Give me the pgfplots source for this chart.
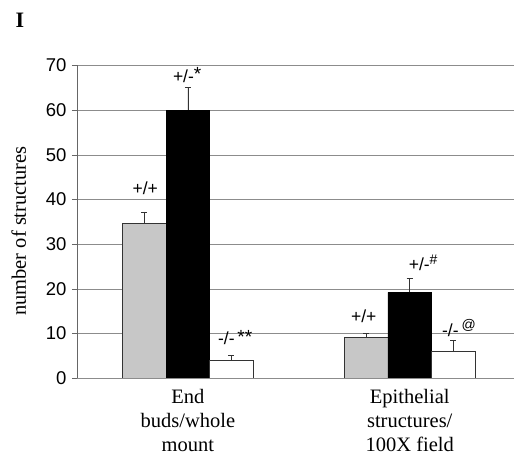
\documentclass[border=0pt]{standalone}
\usepackage{pgfplots}
\pgfplotsset{compat=1.18}
\usepackage{fontspec}
\setmainfont{Liberation Serif}
\newfontfamily\sansf{Liberation Sans}
\newcommand{\supr}[1]{\raisebox{0.38em}{\fontsize{14}{16}\selectfont #1}}
\newcommand{\astr}[1]{\raisebox{0.08em}{\fontsize{19}{20}\selectfont #1}}
\begin{document}
\begin{tikzpicture}[x=1pt,y=1pt]
\useasboundingbox (0,0) rectangle (515,458);
\node[font=\fontsize{22}{24}\selectfont\bfseries] at (20,438) {I};
\begin{axis}[
  at={(77pt,80pt)}, anchor=south west,
  scale only axis, width=437pt, height=312.5pt,
  xmin=-0.5, xmax=1.47, ymin=0, ymax=70,
  ytick={0,10,...,70},
  xtick={0,1},
  xticklabels={End\\buds/whole\\mount, Epithelial\\structures/\\100X field},
  xticklabel style={align=center, font=\fontsize{20.5}{24}\selectfont, yshift=-3pt},
  yticklabel style={font=\sansf\fontsize{18.5}{20}\selectfont, xshift=-2pt},
  /pgf/number format/assume math mode=true,
  axis lines*=left,
  axis line style={-, black!60},
  x axis line style={black!45},
  tick align=outside,
  major tick length=5pt,
  x tick style={draw=none},
  y tick style={black!60},
  ymajorgrids,
  major grid style={black!45},
  ylabel={number of structures},
  ylabel style={at={(axis description cs:-0.133,0.47)}, anchor=center, font=\fontsize{20.5}{22}\selectfont},
  ybar=0pt, bar width=43.5pt,
  error bars/y dir=plus, error bars/y explicit,
  error bars/error bar style={black!80, line width=0.6pt},
  error bars/error mark options={rotate=90, mark size=3pt, black!80, line width=0.6pt},
]
\addplot[fill=black!22, draw=black!80] coordinates {(0,34.6) +- (0,2.6) (1,9.1) +- (0,0.9)};
\addplot[fill=black, draw=black] coordinates {(0,60) +- (0,5.1) (1,19.2) +- (0,3.1)};
\addplot[fill=white, draw=black!80] coordinates {(0,4.0) +- (0,1.1) (1,6.0) +- (0,2.5)};
\begin{scope}[every node/.style={font=\sansf\fontsize{17.5}{20}\selectfont, anchor=west, inner sep=0pt}]
\node at (axis cs:-0.25,42.6) {+/+};
\node at (axis cs:-0.068,67.9) {+/-\astr{*}};
\node at (axis cs:0.135,9.0) {-/-\,\astr{**}};
\node at (axis cs:0.735,13.9) {+/+};
\node at (axis cs:0.995,25.8) {+/-\supr{\#}};
\node at (axis cs:1.145,11.2) {-/-\,\supr{@}};
\end{scope}
\end{axis}
\end{tikzpicture}
\end{document}
